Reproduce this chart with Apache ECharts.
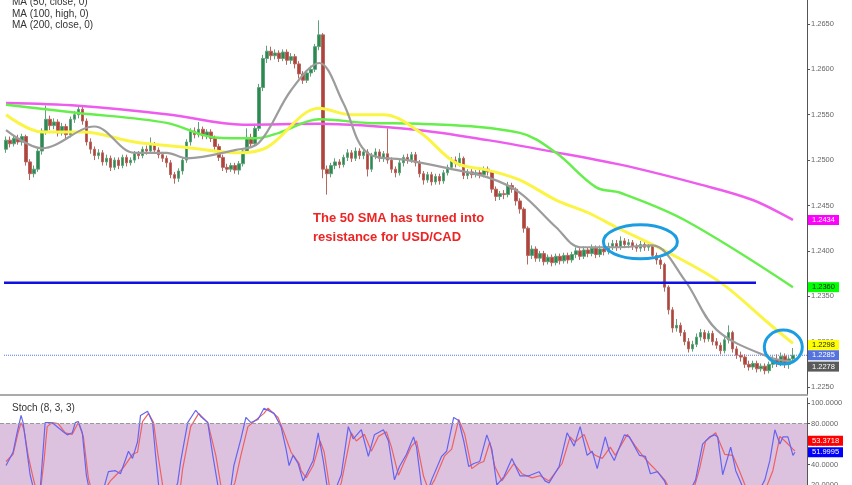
<!DOCTYPE html>
<html><head><meta charset="utf-8">
<script src="https://cdn.jsdelivr.net/npm/echarts@6/dist/echarts.min.js"></script>
<style>html,body{margin:0;padding:0;background:#fff}#c{width:852px;height:485px}</style>
</head><body><div id="c"></div>
<script>
// Candles: [open, close, low, high]
const candles = [
[1.2512,1.2522,1.2508,1.2526],[1.2522,1.2518,1.2514,1.2526],[1.2518,1.2524,1.2515,1.2527],[1.2524,1.2520,1.2517,1.2528],
[1.2520,1.2526,1.2516,1.2529],[1.2526,1.2498,1.2494,1.2528],[1.2498,1.2485,1.2478,1.2501],[1.2485,1.2490,1.2481,1.2494],
[1.2490,1.2510,1.2487,1.2513],[1.2510,1.2532,1.2506,1.2535],[1.2532,1.2545,1.2528,1.2560],[1.2545,1.2538,1.2533,1.2549],
[1.2538,1.2542,1.2534,1.2546],[1.2542,1.2530,1.2526,1.2545],[1.2530,1.2537,1.2527,1.2541],[1.2537,1.2528,1.2524,1.2540],
[1.2528,1.2545,1.2525,1.2548],[1.2545,1.2550,1.2541,1.2554],[1.2550,1.2556,1.2546,1.2560],[1.2556,1.2543,1.2539,1.2559],
[1.2543,1.2520,1.2516,1.2546],[1.2520,1.2512,1.2507,1.2524],[1.2512,1.2505,1.2500,1.2515],[1.2505,1.2508,1.2501,1.2512],
[1.2508,1.2498,1.2494,1.2511],[1.2498,1.2502,1.2494,1.2506],[1.2502,1.2492,1.2488,1.2505],[1.2492,1.2500,1.2489,1.2503],
[1.2500,1.2494,1.2490,1.2503],[1.2494,1.2503,1.2491,1.2506],[1.2503,1.2497,1.2493,1.2506],[1.2497,1.2500,1.2494,1.2503],
[1.2500,1.2507,1.2497,1.2510],[1.2507,1.2505,1.2501,1.2510],[1.2505,1.2512,1.2502,1.2515],[1.2512,1.2510,1.2506,1.2516],
[1.2510,1.2517,1.2507,1.2525],[1.2517,1.2511,1.2507,1.2520],[1.2511,1.2506,1.2502,1.2514],[1.2506,1.2502,1.2498,1.2509],
[1.2502,1.2497,1.2492,1.2505],[1.2497,1.2484,1.2480,1.2500],[1.2484,1.2480,1.2474,1.2487],[1.2480,1.2488,1.2476,1.2491],
[1.2488,1.2500,1.2484,1.2503],[1.2500,1.2520,1.2497,1.2523],[1.2520,1.2532,1.2516,1.2535],[1.2532,1.2528,1.2524,1.2536],
[1.2528,1.2534,1.2525,1.2542],[1.2534,1.2527,1.2523,1.2537],[1.2527,1.2531,1.2523,1.2534],[1.2531,1.2524,1.2520,1.2534],
[1.2524,1.2515,1.2511,1.2527],[1.2515,1.2503,1.2499,1.2518],[1.2503,1.2492,1.2488,1.2506],[1.2492,1.2490,1.2486,1.2496],
[1.2490,1.2494,1.2487,1.2497],[1.2494,1.2489,1.2485,1.2497],[1.2489,1.2496,1.2484,1.2499],[1.2496,1.2510,1.2493,1.2513],
[1.2510,1.2525,1.2507,1.2535],[1.2525,1.2518,1.2514,1.2529],[1.2518,1.2535,1.2515,1.2538],[1.2535,1.2580,1.2532,1.2584],
[1.2580,1.2612,1.2576,1.2616],[1.2612,1.2620,1.2607,1.2626],[1.2620,1.2615,1.2610,1.2625],[1.2615,1.2618,1.2611,1.2622],
[1.2618,1.2612,1.2608,1.2621],[1.2612,1.2619,1.2609,1.2622],[1.2619,1.2610,1.2605,1.2622],[1.2610,1.2614,1.2606,1.2618],
[1.2614,1.2606,1.2601,1.2617],[1.2606,1.2595,1.2590,1.2609],[1.2595,1.2588,1.2584,1.2598],[1.2588,1.2596,1.2585,1.2599],
[1.2596,1.2600,1.2592,1.2604],[1.2600,1.2625,1.2597,1.2628],[1.2625,1.2638,1.2621,1.2654],[1.2638,1.2490,1.2480,1.2640],
[1.2490,1.2485,1.2462,1.2494],[1.2485,1.2494,1.2481,1.2497],[1.2494,1.2498,1.2490,1.2502],[1.2498,1.2495,1.2491,1.2501],
[1.2495,1.2503,1.2492,1.2506],[1.2503,1.2508,1.2499,1.2512],[1.2508,1.2502,1.2498,1.2511],[1.2502,1.2510,1.2499,1.2514],
[1.2510,1.2505,1.2501,1.2513],[1.2505,1.2509,1.2501,1.2513],[1.2509,1.2490,1.2482,1.2512],[1.2490,1.2505,1.2487,1.2508],
[1.2505,1.2509,1.2501,1.2513],[1.2509,1.2502,1.2498,1.2512],[1.2502,1.2507,1.2498,1.2510],[1.2507,1.2500,1.2496,1.2535],
[1.2500,1.2490,1.2486,1.2503],[1.2490,1.2486,1.2481,1.2493],[1.2486,1.2497,1.2483,1.2500],[1.2497,1.2503,1.2493,1.2506],
[1.2503,1.2500,1.2496,1.2507],[1.2500,1.2506,1.2497,1.2509],[1.2506,1.2497,1.2493,1.2509],[1.2497,1.2485,1.2481,1.2500],
[1.2485,1.2478,1.2473,1.2488],[1.2478,1.2484,1.2475,1.2487],[1.2484,1.2476,1.2472,1.2487],[1.2476,1.2482,1.2473,1.2485],
[1.2482,1.2477,1.2473,1.2485],[1.2477,1.2486,1.2474,1.2489],[1.2486,1.2492,1.2483,1.2495],[1.2492,1.2500,1.2489,1.2503],
[1.2500,1.2496,1.2492,1.2504],[1.2496,1.2502,1.2493,1.2508],[1.2502,1.2483,1.2479,1.2504],[1.2483,1.2487,1.2479,1.2490],
[1.2487,1.2484,1.2480,1.2490],[1.2484,1.2486,1.2481,1.2489],[1.2486,1.2484,1.2480,1.2489],[1.2484,1.2490,1.2481,1.2493],
[1.2490,1.2487,1.2483,1.2493],[1.2487,1.2468,1.2464,1.2489],[1.2468,1.2460,1.2455,1.2471],[1.2460,1.2463,1.2456,1.2466],
[1.2463,1.2462,1.2457,1.2467],[1.2462,1.2472,1.2459,1.2476],[1.2472,1.2468,1.2464,1.2475],[1.2468,1.2455,1.2450,1.2470],
[1.2455,1.2446,1.2441,1.2458],[1.2446,1.2425,1.2420,1.2448],[1.2425,1.2395,1.2385,1.2427],[1.2395,1.2402,1.2391,1.2406],
[1.2402,1.2392,1.2388,1.2405],[1.2392,1.2397,1.2388,1.2400],[1.2397,1.2388,1.2384,1.2400],[1.2388,1.2393,1.2385,1.2396],
[1.2393,1.2387,1.2383,1.2396],[1.2387,1.2394,1.2384,1.2397],[1.2394,1.2389,1.2385,1.2397],[1.2389,1.2395,1.2386,1.2398],
[1.2395,1.2390,1.2386,1.2398],[1.2390,1.2396,1.2387,1.2399],[1.2396,1.2400,1.2392,1.2404],[1.2400,1.2394,1.2390,1.2403],
[1.2394,1.2401,1.2391,1.2405],[1.2401,1.2397,1.2393,1.2404],[1.2397,1.2403,1.2394,1.2407],[1.2403,1.2396,1.2392,1.2406],
[1.2396,1.2402,1.2393,1.2406],[1.2402,1.2399,1.2395,1.2405],[1.2399,1.2405,1.2396,1.2409],[1.2405,1.2408,1.2401,1.2412],
[1.2408,1.2404,1.2400,1.2412],[1.2404,1.2411,1.2401,1.2416],[1.2411,1.2407,1.2403,1.2414],[1.2407,1.2409,1.2403,1.2413],
[1.2409,1.2405,1.2401,1.2412],[1.2405,1.2403,1.2399,1.2408],[1.2403,1.2407,1.2399,1.2411],[1.2407,1.2404,1.2400,1.2410],
[1.2404,1.2406,1.2400,1.2410],[1.2406,1.2395,1.2391,1.2408],[1.2395,1.2390,1.2385,1.2398],[1.2390,1.2385,1.2380,1.2393],
[1.2385,1.2360,1.2355,1.2387],[1.2360,1.2335,1.2330,1.2362],[1.2335,1.2315,1.2310,1.2338],[1.2315,1.2318,1.2311,1.2325],
[1.2318,1.2310,1.2306,1.2321],[1.2310,1.2300,1.2296,1.2313],[1.2300,1.2292,1.2288,1.2304],[1.2292,1.2297,1.2289,1.2301],
[1.2297,1.2305,1.2294,1.2309],[1.2305,1.2310,1.2301,1.2314],[1.2310,1.2303,1.2299,1.2313],[1.2303,1.2309,1.2300,1.2312],
[1.2309,1.2300,1.2296,1.2312],[1.2300,1.2296,1.2292,1.2304],[1.2296,1.2290,1.2286,1.2299],[1.2290,1.2302,1.2287,1.2305],
[1.2302,1.2310,1.2298,1.2318],[1.2310,1.2292,1.2288,1.2312],[1.2292,1.2285,1.2281,1.2295],[1.2285,1.2283,1.2278,1.2289],
[1.2283,1.2275,1.2271,1.2286],[1.2275,1.2272,1.2268,1.2279],[1.2272,1.2276,1.2269,1.2279],[1.2276,1.2270,1.2266,1.2279],
[1.2270,1.2273,1.2267,1.2276],[1.2273,1.2268,1.2264,1.2276],[1.2268,1.2275,1.2265,1.2278],[1.2275,1.2280,1.2271,1.2284],
[1.2280,1.2276,1.2272,1.2286],[1.2276,1.2284,1.2273,1.2288],[1.2284,1.2275,1.2271,1.2287],[1.2275,1.2281,1.2270,1.2284],
[1.2281,1.2285,1.2277,1.2293]
];
// Moving averages: [candle index, price]
const ma200 = [[0,1.2563],[18,1.2560],[41,1.2550],[59,1.2539],[78,1.2540],[103,1.2533],[120,1.2522],[134,1.2511],[153,1.2495],[173,1.2473],[186,1.2456],[196,1.2434]];
const ma100 = [[0,1.2561],[18,1.2552],[40,1.2541],[52,1.2525],[62,1.2524],[68,1.2530],[78,1.2545],[90,1.2541],[103,1.2540],[128,1.2530],[137,1.2508],[147,1.2470],[153,1.2464],[169,1.2434],[196,1.2360]];
const ma50 = [[0,1.2550],[9,1.2531],[19,1.2531],[32,1.2520],[45,1.2514],[58,1.2508],[65,1.2514],[78,1.2557],[86,1.2550],[94,1.2550],[103,1.2531],[112,1.2497],[120,1.2489],[128,1.2478],[137,1.2456],[145,1.2442],[152,1.2426],[165,1.2398],[178,1.2365],[190,1.2320],[196,1.2298]];
const maFast = [[0,1.2533],[9,1.2513],[22,1.2537],[32,1.2508],[40,1.2508],[45,1.2502],[57,1.2511],[63,1.2519],[71,1.2577],[78,1.2607],[84,1.2563],[90,1.2508],[100,1.2500],[109,1.2492],[120,1.2481],[128,1.2464],[137,1.2426],[143,1.2404],[152,1.2404],[161,1.2406],[169,1.2368],[177,1.2313],[190,1.2283],[196,1.2278]];
const supportLevel = 1.2365;
const lastPrice = 1.2285;
// Stochastic (8,3,3): [candle index, value]
const stochK = [[0,39],[1.75,52],[2.75,71],[3.75,88],[4.25,81],[5.25,52],[6,30],[6.75,18],[7.5,10],[8.5,15],[9.75,81],[11,81],[11.75,80],[14.25,72],[15.25,69],[16.5,71],[17.25,81],[18,82],[19,71],[20,30],[21,10],[22.5,8],[24,12],[25.5,33],[27.25,34],[28.5,31],[30.5,53],[31.5,46],[32.75,62],[33.5,88],[35.25,92],[36.5,81],[37.25,49],[38,20],[39.5,8],[41.5,10],[42.75,22],[43.5,43],[45.25,81],[47.25,93],[48.5,87],[50.25,81],[51.5,49],[52.75,20],[54.25,8],[56,18],[56.75,39],[58.5,65],[59.75,86],[61,81],[62.75,84],[64.25,95],[66.75,90],[68.5,77],[69.75,55],[70.5,39],[71.5,49],[72.75,41],[74,24],[75.25,34],[76.5,44],[77.75,71],[79,44],[80,18],[81.5,10],[83.5,30],[85.25,77],[86.5,65],[88.5,74],[90.25,48],[91.75,69],[94,74],[95.25,63],[96.75,25],[98,38],[99.75,50],[101.5,67],[102.25,57],[103.5,18],[104.75,10],[106,25],[108.5,48],[109.75,53],[111.5,86],[112.75,83],[114,63],[115.25,38],[116.5,41],[118,43],[119.75,69],[121,55],[122.25,20],[124,28],[126,46],[128,29],[130.25,29],[132.75,33],[134.25,24],[135.25,22],[137.75,38],[139.75,71],[141.5,58],[143,77],[144.75,49],[146,53],[147.25,36],[149.25,67],[150.25,53],[151.5,44],[154,69],[155.25,67],[157.75,49],[159.25,48],[160.5,31],[162.25,33],[164,24],[165.25,12],[167.25,5],[169.75,10],[171.75,25],[173.5,60],[175.25,67],[176.5,69],[177.25,67],[178.5,30],[180.5,57],[181.75,34],[183.5,18],[185.5,8],[187.25,12],[189,25],[190.25,44],[191.5,74],[192.75,60],[193.5,67],[194.75,67],[196,49],[196.5,51.9995]];
const stochD = [[0,43],[1.75,50],[3,71],[3.75,81],[4.5,74],[5.5,49],[6.75,27],[7.75,12],[8.75,20],[9.5,45],[10.25,77],[11.5,81],[13,80],[14.75,71],[16.5,69.5],[18,81],[19.25,67.5],[20.5,27],[21.5,12],[23.5,8],[25,18],[26,24],[27.25,29],[29.25,37],[31.5,50],[32.75,52],[34,82],[35.5,90],[36.75,81],[37.75,52],[39,20],[40.5,8],[42.5,10],[43.5,20],[44,36],[46,77],[48,90],[50.25,81],[52.25,49],[53.5,20],[55,8],[57,22],[58.5,49],[60.25,77],[61.75,82],[64.25,90],[65.25,95],[67.75,86],[69.25,71],[71,52],[71.75,48],[73,41],[73.5,34],[74.75,27],[76.5,39],[78.25,63],[79.25,52],[80.5,20],[82,10],[83.5,22],[86,71],[87.25,63],[89.25,69.5],[91,53],[92.75,67.5],[94.75,72],[96,57],[97.75,29.5],[99.25,43],[101,58],[102.25,63],[104,28.5],[105.25,15],[106.75,25],[109.25,48.5],[111,55],[112.75,84],[114.25,69.5],[116,36],[117.75,41],[119,43],[120.5,62],[121.75,38],[123.5,24],[126.5,41],[128.5,31],[131,27],[133,29],[135.25,24],[138.5,41],[140.5,67],[141.75,62],[144,69.5],[145.5,53],[146.75,49],[148.5,46],[150.5,57],[151.75,49],[154.75,69.5],[156.75,58],[158.5,49],[160.25,41],[162.25,33],[164.25,24],[165.5,14],[168,6],[171,12],[172.75,36],[174.25,63],[176.75,71],[179,50],[181,49],[182.75,33],[184.25,18],[186.5,8],[189,14],[191,34],[192.75,67.5],[194.25,62],[196,55],[196.5,53.3718]];
const legendLines = ['MA (50, close, 0)', 'MA (100, high, 0)', 'MA (200, close, 0)'];
const stochTitle = 'Stoch (8, 3, 3)';
const noteLines = ['The 50 SMA has turned into', 'resistance for USD/CAD'];
const circleA = [158, 1.2410];
const circleB = [193.6, 1.2294];

const N = 201; // 1 leading pad, candles, trailing pads
const cats = [];
for (let j = 0; j < N; j++) cats.push(String(j));
const candleSeriesData = ['-'].concat(candles);

function maLine(data, color, width) {
  return { type: 'line', xAxisIndex: 1, yAxisIndex: 0, data: data, smooth: 0.35, symbol: 'none',
    lineStyle: { color: color, width: width }, itemStyle: { color: color }, z: 3 };
}

const chart = echarts.init(document.getElementById('c'), null, { renderer: 'canvas' });
const axisCol = '#555';
const fontFam = 'Arial, "Liberation Sans", sans-serif';
const option = {
  animation: false,
  grid: [
    { left: 0, right: 45, top: 0, height: 395, outerBoundsMode: 'none', containLabel: false },
    { left: 0, right: 45, top: 398, height: 87, outerBoundsMode: 'none', containLabel: false }
  ],
  xAxis: [
    { type: 'category', gridIndex: 0, data: cats, boundaryGap: true,
      axisLine: { show: true, onZero: false, lineStyle: { color: '#aaa', width: 2 } }, axisTick: { show: false }, axisLabel: { show: false }, splitLine: { show: false } },
    { type: 'value', gridIndex: 0, min: -1.5, max: 199.5, show: false },
    { type: 'value', gridIndex: 1, min: -1.5, max: 199.5, show: false }
  ],
  yAxis: [
    { type: 'value', gridIndex: 0, position: 'right', min: 1.22412, max: 1.26764, splitNumber: 8,
      axisLine: { show: true, onZero: false, lineStyle: { color: axisCol } }, axisTick: { show: true, length: 3, lineStyle: { color: axisCol } },
      axisLabel: { color: '#666', fontSize: 7.5, margin: 4, showMinLabel: false, showMaxLabel: false, formatter: v => v.toFixed(4), fontFamily: fontFam },
      splitLine: { show: false } },
    { type: 'value', gridIndex: 1, position: 'right', min: 20, max: 105, interval: 20,
      axisLine: { show: true, onZero: false, lineStyle: { color: axisCol } }, axisTick: { show: true, length: 3, lineStyle: { color: axisCol } },
      axisLabel: { color: '#666', fontSize: 7.5, margin: 4, showMaxLabel: false, formatter: v => v.toFixed(4), fontFamily: fontFam },
      splitLine: { show: false } }
  ],
  series: [
    { type: 'candlestick', xAxisIndex: 0, yAxisIndex: 0, data: candleSeriesData, barWidth: 3,
      itemStyle: { color: '#2a8a52', color0: '#b0443c', borderColor: '#5fa279', borderColor0: '#b9665f', borderWidth: 1 } },
    maLine(ma200, '#ee5cee', 2.5),
    maLine(ma100, '#66ee4c', 2.5),
    maLine(ma50, '#faf544', 3),
    maLine(maFast, '#9c9c9c', 2.2),
    { type: 'line', xAxisIndex: 1, yAxisIndex: 0, data: [[-0.5, supportLevel], [186.8, supportLevel]], symbol: 'none',
      lineStyle: { color: '#1010e0', width: 2.5 }, z: 4 },
    { type: 'line', xAxisIndex: 1, yAxisIndex: 0, data: [[-0.5, lastPrice], [199.5, lastPrice]], symbol: 'none',
      lineStyle: { color: '#5a78e0', width: 1, type: 'dotted' }, z: 2 },
    { type: 'line', xAxisIndex: 2, yAxisIndex: 1, data: stochD, symbol: 'none', z: 3,
      lineStyle: { color: '#f06060', width: 1.2 }, itemStyle: { color: '#f06060' },
      markArea: { silent: true, itemStyle: { color: '#dcc2df' }, data: [[{ yAxis: 20 }, { yAxis: 80 }]] },
      markLine: { silent: true, symbol: 'none', label: { show: false }, data: [{ yAxis: 80 }], lineStyle: { type: 'dashed', color: '#999', width: 1 } } },
    { type: 'line', xAxisIndex: 2, yAxisIndex: 1, data: stochK, symbol: 'none', z: 4,
      lineStyle: { color: '#6464f0', width: 1.2 }, itemStyle: { color: '#6464f0' } }
  ]
};
chart.setOption(option);

const txtFont = '10px Arial, "Liberation Sans", sans-serif';
const g = [];
legendLines.forEach((t, k) => g.push({ type: 'text', x: 12, y: 2.7 + k * 11.5, style: { text: t, font: txtFont, fill: '#333', textVerticalAlign: 'middle' }, z: 10 }));
g.push({ type: 'text', x: 12, y: 408, style: { text: stochTitle, font: txtFont, fill: '#333', textVerticalAlign: 'middle' }, z: 10 });
g.push({ type: 'text', x: 313, y: 218, style: { text: noteLines[0], font: 'bold 13px ' + fontFam, fill: '#ee2424', textVerticalAlign: 'middle' }, z: 10 });
g.push({ type: 'text', x: 313, y: 237, style: { text: noteLines[1], font: 'bold 13px ' + fontFam, fill: '#ee2424', textVerticalAlign: 'middle' }, z: 10 });
const pa = chart.convertToPixel({ seriesIndex: 1 }, circleA);
const pb = chart.convertToPixel({ seriesIndex: 1 }, circleB);
g.push({ type: 'ellipse', shape: { cx: pa[0], cy: pa[1], rx: 37, ry: 17 }, style: { fill: 'none', stroke: '#1c9de2', lineWidth: 3 }, z: 20 });
g.push({ type: 'ellipse', shape: { cx: pb[0], cy: pb[1], rx: 19, ry: 17 }, style: { fill: 'none', stroke: '#1c9de2', lineWidth: 3 }, z: 20 });

// value tags on the right axis
const tags = [
  { s: 1, v: ma200[ma200.length - 1][1], bg: '#ff00ff', fg: '#fff', dy: 0 },
  { s: 1, v: ma100[ma100.length - 1][1], bg: '#00ff00', fg: '#222', dy: 0 },
  { s: 1, v: ma50[ma50.length - 1][1], bg: '#ffff00', fg: '#222', dy: 1.5 },
  { s: 1, v: lastPrice, bg: '#5473de', fg: '#fff', dy: 0 },
  { s: 1, v: maFast[maFast.length - 1][1], bg: '#5a5a5a', fg: '#fff', dy: 5 },
  { s: 8, v: stochD[stochD.length - 1][1], bg: '#ff0000', fg: '#fff', dy: -10 },
  { s: 8, v: stochK[stochK.length - 1][1], bg: '#0000ff', fg: '#fff', dy: 0 }
];
tags.forEach(t => {
  const y = chart.convertToPixel({ seriesIndex: t.s }, [0, t.v])[1] + t.dy;
  const w = t.s === 8 ? 35 : 31;
  g.push({ type: 'rect', shape: { x: 808, y: y - 5, width: w, height: 10 }, style: { fill: t.bg }, z: 30 });
  g.push({ type: 'text', x: 812, y: y, style: { text: t.v.toFixed(4), font: '7.5px ' + fontFam, fill: t.fg, textVerticalAlign: 'middle' }, z: 31 });
});
chart.setOption({ graphic: g });
</script></body></html>
